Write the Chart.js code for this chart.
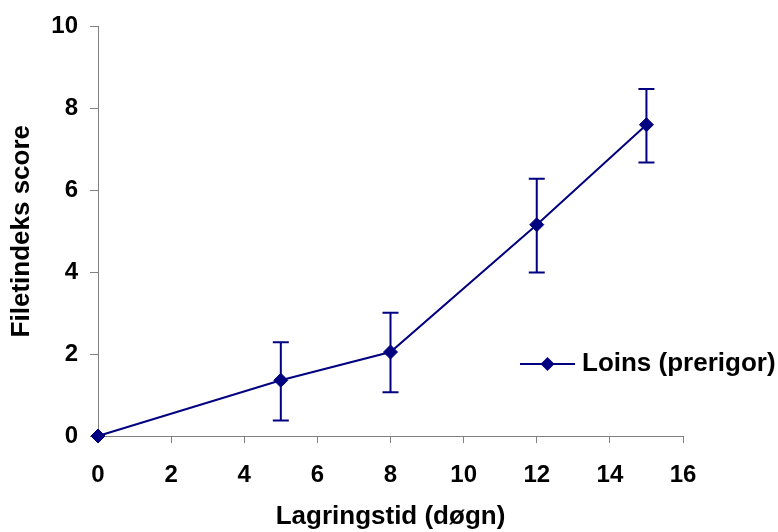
<!DOCTYPE html>
<html>
<head>
<meta charset="utf-8">
<script src="https://cdn.jsdelivr.net/npm/chart.js@4/dist/chart.umd.min.js"></script>
<style>
  html, body { margin: 0; padding: 0; background: #fff; }
  #wrap { width: 778px; height: 532px; position: relative; }
</style>
</head>
<body>
<div id="wrap"><canvas id="chart"></canvas></div>
<script>
// storage days vs fillet index score
const days = [0, 5, 8, 12, 15];
const scores = [0, 1.36, 2.05, 5.16, 7.6];
const errLow = [null, 0.38, 1.07, 3.99, 6.68];
const errHigh = [null, 2.29, 3.01, 6.28, 8.47];
const seriesName = 'Loins (prerigor)';
const xTitle = 'Lagringstid (døgn)';
const yTitle = 'Filetindeks score';

const NAVY = '#000080';
const AXIS = '#808080';
const FONT = "'Liberation Sans', Arial, sans-serif";

// vertical error bars with caps, drawn under the markers
const errorBars = {
  id: 'errorBars',
  beforeDatasetsDraw(chart) {
    const { ctx, scales: { x, y } } = chart;
    ctx.save();
    ctx.strokeStyle = NAVY;
    ctx.lineWidth = 2;
    days.forEach((d, i) => {
      if (errLow[i] == null) return;
      const px = x.getPixelForValue(d);
      const top = y.getPixelForValue(errHigh[i]);
      const bot = y.getPixelForValue(errLow[i]);
      ctx.beginPath();
      ctx.moveTo(px, top); ctx.lineTo(px, bot);
      ctx.moveTo(px - 8, top); ctx.lineTo(px + 8, top);
      ctx.moveTo(px - 8, bot); ctx.lineTo(px + 8, bot);
      ctx.stroke();
    });
    ctx.restore();
  }
};

// legend sits inside the plot, right of the 8-day point
const insideLegend = {
  id: 'insideLegend',
  afterDraw(chart) {
    const { ctx } = chart;
    const y0 = 364, x0 = 520, x1 = 575;
    const cx = (x0 + x1) / 2;
    ctx.save();
    ctx.strokeStyle = NAVY;
    ctx.lineWidth = 2;
    ctx.beginPath();
    ctx.moveTo(x0, y0); ctx.lineTo(x1, y0);
    ctx.stroke();
    ctx.fillStyle = NAVY;
    ctx.beginPath();
    ctx.moveTo(cx, y0 - 7); ctx.lineTo(cx + 7, y0);
    ctx.lineTo(cx, y0 + 7); ctx.lineTo(cx - 7, y0);
    ctx.closePath(); ctx.fill();
    ctx.fillStyle = '#000';
    ctx.font = 'bold 26px ' + FONT;
    ctx.textBaseline = 'middle';
    ctx.fillText(seriesName, 582, y0);
    ctx.restore();
  }
};

new Chart(document.getElementById('chart'), {
  type: 'scatter',
  data: {
    datasets: [{
      label: seriesName,
      data: days.map((d, i) => ({ x: d, y: scores[i] })),
      showLine: true,
      borderColor: NAVY,
      backgroundColor: NAVY,
      borderWidth: 2,
      pointStyle: 'rectRot',
      pointRadius: 7,
      pointHoverRadius: 7,
      pointBorderWidth: 1,
      clip: false
    }]
  },
  options: {
    responsive: true,
    maintainAspectRatio: false,
    animation: false,
    layout: { padding: { left: 0, top: 26, right: 95, bottom: 0 } },
    plugins: {
      legend: { display: false },
      tooltip: { enabled: false }
    },
    scales: {
      x: {
        type: 'linear',
        min: 0, max: 16,
        afterFit(s) { s.height = 96; },
        ticks: { stepSize: 2, color: '#000', padding: 18, font: { family: FONT, size: 24, weight: 'bold' } },
        grid: { drawOnChartArea: false, color: AXIS, tickLength: 7 },
        border: { color: AXIS, width: 1 },
        title: { display: true, text: xTitle, color: '#000', padding: { top: 0, bottom: 0 }, font: { family: FONT, size: 26, weight: 'bold' } }
      },
      y: {
        min: 0, max: 10,
        afterFit(s) { s.width = 98; },
        ticks: { stepSize: 2, color: '#000', padding: 12, font: { family: FONT, size: 24, weight: 'bold' } },
        grid: { drawOnChartArea: false, color: AXIS, tickLength: 8 },
        border: { color: AXIS, width: 1 },
        title: { display: true, text: yTitle, color: '#000', padding: { top: 6, bottom: 0 }, font: { family: FONT, size: 26, weight: 'bold' } }
      }
    }
  },
  plugins: [errorBars, insideLegend]
});
</script>
</body>
</html>
